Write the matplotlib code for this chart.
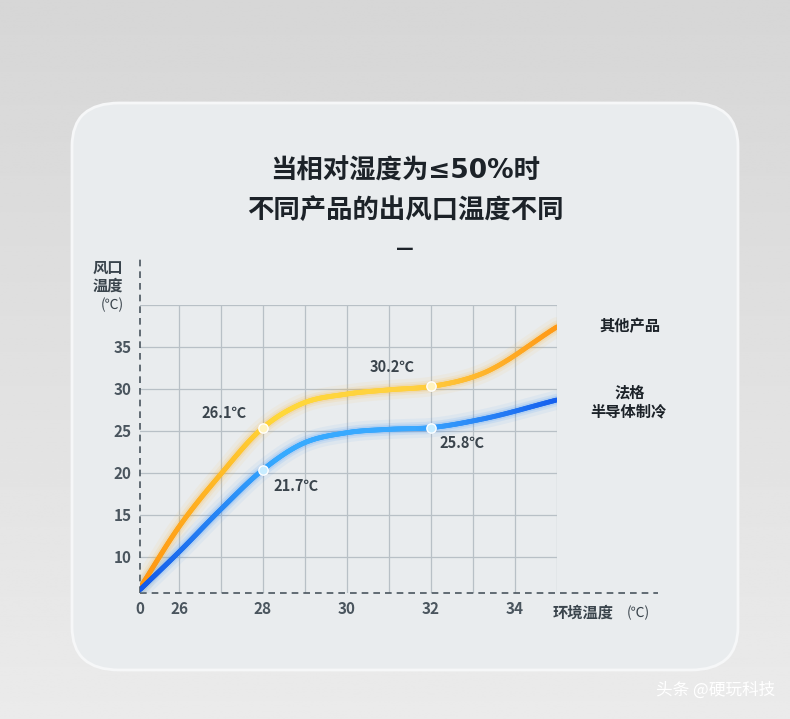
import numpy as np
import matplotlib.pyplot as plt
from matplotlib.patches import FancyBboxPatch
from matplotlib.collections import LineCollection
from matplotlib.colors import LinearSegmentedColormap

plt.rcParams['font.family'] = ['Noto Sans CJK SC', 'DejaVu Sans']

# x positions on the drawn scale (the "0" tick sits just left of 26)
x_ticks = [25.07, 26, 28, 30, 32, 34]
x_labels = ['0', '26', '28', '30', '32', '34']
y_ticks = [10, 15, 20, 25, 30, 35]

curve_x = [25.07, 26, 27, 28, 28.9, 30, 31, 32, 33.2, 35]
other_y = [6.3, 13.6, 19.9, 25.4, 28.2, 29.4, 29.9, 30.3, 31.8, 37.4]
fage_y = [6.1, 10.6, 15.7, 20.4, 23.4, 24.8, 25.2, 25.4, 26.4, 28.7]

other_pts = [(28, 25.4, '26.1℃'), (32, 30.3, '30.2℃')]
fage_pts = [(28, 20.3, '21.7℃'), (32, 25.4, '25.8℃')]


def smooth(xs, ys, n=400):
    xs = np.asarray(xs, float); ys = np.asarray(ys, float)
    m = np.gradient(ys, xs)
    out_x, out_y = [], []
    for i in range(len(xs) - 1):
        h = xs[i + 1] - xs[i]
        t = np.linspace(0, 1, n // len(xs))
        h00 = 2*t**3 - 3*t**2 + 1; h10 = t**3 - 2*t**2 + t
        h01 = -2*t**3 + 3*t**2; h11 = t**3 - t**2
        out_x.append(xs[i] + t*h)
        out_y.append(h00*ys[i] + h10*h*m[i] + h01*ys[i+1] + h11*h*m[i+1])
    return np.concatenate(out_x), np.concatenate(out_y)


fig = plt.figure(figsize=(7.9, 7.19), dpi=100)
bg = fig.add_axes([0, 0, 1, 1], zorder=-10)
bg.imshow(np.linspace(0.84, 0.92, 256).reshape(-1, 1) * np.ones((1, 2)),
          cmap='gray', vmin=0, vmax=1, aspect='auto', extent=[0, 1, 0, 1])
bg.set_axis_off()
card = FancyBboxPatch((72/790, 1-670/719), 666/790, 567/719,
                      boxstyle='round,pad=0,rounding_size=0.06',
                      transform=fig.transFigure, facecolor='#e9ecee',
                      edgecolor='#f6f7f8', linewidth=2, zorder=-5)
fig.patches.append(card)

fig.text(405/790, 1-172/719, '当相对湿度为≤50%时', ha='center', va='center',
         fontsize=19, fontweight='bold', color='#1c2228',
         family=['DejaVu Sans', 'Noto Sans CJK SC'])
fig.text(405/790, 1-210/719, '不同产品的出风口温度不同', ha='center', va='center',
         fontsize=19, fontweight='bold', color='#1c2228')
fig.text(405/790, 1-250/719, '—', ha='center', va='center', fontsize=14,
         fontweight='bold', color='#1c2228')
fig.text(775/790, 1-690/719, '头条 @硬玩科技', ha='right', va='center',
         fontsize=12, color='white')

# axes: x 140..557 px, y 593..305 px
ax = fig.add_axes([140/790, 1-593/719, 417/790, 288/719])
ax.set_xlim(25.07, 35)
ax.set_ylim(5.71, 40)
ax.patch.set_alpha(0)
for s in ax.spines.values():
    s.set_visible(False)
for xv in np.arange(26, 35.5, 1):
    ax.axvline(xv, color='#b8c0c6', lw=0.9, zorder=1)
for yv in [10, 15, 20, 25, 30, 35, 40]:
    ax.axhline(yv, color='#b8c0c6', lw=0.9, zorder=1)
ax.plot([25.07, 25.07], [5.71, 46], color='#4a555e', lw=1.2, ls=(0, (4, 3)),
        clip_on=False)
ax.plot([25.07, 37.4], [5.71, 5.71], color='#4a555e', lw=1.2, ls=(0, (4, 3)),
        clip_on=False)
ax.set_xticks(x_ticks, x_labels)
ax.set_yticks(y_ticks)
ax.tick_params(length=0, labelsize=11, labelcolor='#4a555e', pad=6)
for lab in ax.get_xticklabels() + ax.get_yticklabels():
    lab.set_fontweight('bold')

cm_o = LinearSegmentedColormap.from_list('o', ['#ff9410', '#ffd83a', '#ffd040', '#ff9a18'])
cm_b = LinearSegmentedColormap.from_list('b', ['#1458e8', '#36aaff', '#3aa8ff', '#1660ee'])
for ys, cm, glow in [(other_y, cm_o, '#ffb020'), (fage_y, cm_b, '#2a8cff')]:
    sx, sy = smooth(curve_x, ys)
    for w, a in [(14, 0.06), (9, 0.1), (6, 0.15)]:
        ax.plot(sx, sy, color=glow, lw=w, alpha=a, solid_capstyle='round', zorder=3)
    seg = np.stack([np.column_stack([sx[:-1], sy[:-1]]),
                    np.column_stack([sx[1:], sy[1:]])], axis=1)
    lc = LineCollection(seg, cmap=cm, linewidths=3.5, zorder=4, capstyle='round')
    lc.set_array((sx[:-1] - 25.07) / 9.93)
    ax.add_collection(lc)

for (x, y, t), dx, dy in zip(other_pts, [-0.4, -0.4], [1.7, 2.3]):
    ax.scatter(x, y, s=45, color='#fff3c0', edgecolor='white', zorder=5)
    ax.text(x + dx, y + dy, t, ha='right', va='center', fontsize=10.5,
            fontweight='bold', color='#3a444c')
for (x, y, t), dx, dy in zip(fage_pts, [0.25, 0.2], [-1.8, -1.8]):
    ax.scatter(x, y, s=45, color='#c8ecff', edgecolor='white', zorder=5)
    ax.text(x + dx, y + dy, t, ha='left', va='center', fontsize=10.5,
            fontweight='bold', color='#3a444c')

fig.text(630/790, 1-326/719, '其他产品', ha='center', va='center',
         fontsize=11, fontweight='bold', color='#1c2228')
fig.text(630/790, 1-393/719, '法格', ha='center', va='center',
         fontsize=11, fontweight='bold', color='#1c2228')
fig.text(628/790, 1-411/719, '半导体制冷', ha='center', va='center',
         fontsize=11, fontweight='bold', color='#1c2228')
fig.text(108/790, 1-268/719, '风口', ha='center', va='center',
         fontsize=11, fontweight='bold', color='#3a444c')
fig.text(108/790, 1-286/719, '温度', ha='center', va='center',
         fontsize=11, fontweight='bold', color='#3a444c')
fig.text(112/790, 1-305/719, '(℃)', ha='center', va='center',
         fontsize=10, color='#3a444c')
fig.text(553/790, 1-613/719, '环境温度', ha='left', va='center',
         fontsize=11, fontweight='bold', color='#3a444c')
fig.text(627/790, 1-613/719, '(℃)', ha='left', va='center',
         fontsize=10, color='#3a444c')

fig.savefig('out.png', dpi=100)
